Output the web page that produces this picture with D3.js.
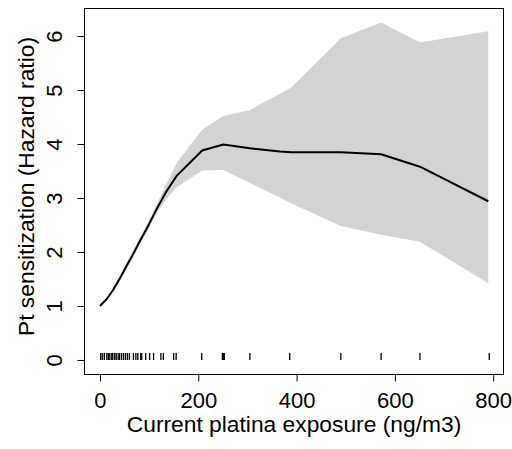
<!DOCTYPE html>
<html>
<head>
<meta charset="utf-8">
<script src="https://cdn.jsdelivr.net/npm/d3@7"></script>
<style>
body { margin: 0; background: #fff; }
text { font-family: "Liberation Sans", Arial, sans-serif; }
</style>
</head>
<body>
<div id="chart"></div>
<script>
// knots of the fitted curve (exposure, ng/m3)
var exposure = [0, 14, 27, 41, 54, 68, 81, 95, 115, 135, 156, 208, 251, 305, 366, 390, 490, 572, 651, 790];
var hazard   = [1.0, 1.13, 1.30, 1.52, 1.74, 1.97, 2.2, 2.43, 2.79, 3.12, 3.41, 3.88, 3.99, 3.92, 3.86, 3.85, 3.85, 3.81, 3.58, 2.94];
var upper    = [1.0, 1.15, 1.34, 1.57, 1.8, 2.03, 2.26, 2.5, 2.87, 3.26, 3.65, 4.27, 4.52, 4.63, 4.93, 5.05, 5.96, 6.25, 5.88, 6.09];
var lower    = [1.0, 1.11, 1.27, 1.48, 1.69, 1.91, 2.14, 2.37, 2.71, 2.98, 3.2, 3.51, 3.52, 3.28, 3.01, 2.9, 2.48, 2.32, 2.19, 1.42];

// observed exposures (rug)
var rugValues = [1.4, 4.7, 8.8, 14, 17, 20, 24, 26, 30, 33, 37, 40, 44, 48, 52, 56, 60, 68, 73, 77, 83, 85, 93, 101, 109,
  124, 129, 150, 155, 207, 249, 251, 253, 305, 386, 490, 572, 651, 792];

var xTicks = [0, 200, 400, 600, 800];
var yTicks = [0, 1, 2, 3, 4, 5, 6];

var width = 512, height = 449;
var plotLeft = 84, plotRight = 504, plotTop = 8, plotBottom = 374;
var fontSize = 22, titleSize = 22.8;

var svg = d3.select("#chart").append("svg")
    .attr("width", width)
    .attr("height", height);

var x = d3.scaleLinear().domain([-32.5, 822]).range([plotLeft, plotRight]);
var y = d3.scaleLinear().domain([-0.26, 6.52]).range([plotBottom, plotTop]);

var rows = exposure.map(function(e, i) {
  return {x: e, fit: hazard[i], lo: lower[i], hi: upper[i]};
});

// confidence band
var area = d3.area()
    .x(function(d) { return x(d.x); })
    .y0(function(d) { return y(d.lo); })
    .y1(function(d) { return y(d.hi); });

svg.append("path")
    .attr("d", area(rows))
    .attr("fill", "#d3d3d3");

// fitted line
var line = d3.line()
    .x(function(d) { return x(d.x); })
    .y(function(d) { return y(d.fit); });

svg.append("path")
    .attr("d", line(rows))
    .attr("fill", "none")
    .attr("stroke", "#000")
    .attr("stroke-width", 2);

// rug marks at zero
svg.append("g").selectAll("line")
    .data(rugValues)
    .enter().append("line")
    .attr("x1", function(d) { return x(d); })
    .attr("x2", function(d) { return x(d); })
    .attr("y1", y(0) - 7)
    .attr("y2", y(0))
    .attr("stroke", "#000")
    .attr("stroke-width", 1.3);

// box
svg.append("rect")
    .attr("x", plotLeft + 0.5)
    .attr("y", plotTop + 0.5)
    .attr("width", plotRight - plotLeft - 1)
    .attr("height", plotBottom - plotTop)
    .attr("fill", "none")
    .attr("stroke", "#000");

var xAxis = d3.axisBottom(x).tickValues(xTicks).tickSize(7).tickPadding(11)
    .tickFormat(d3.format("d"));
var yAxis = d3.axisLeft(y).tickValues(yTicks).tickSize(7)
    .tickFormat(d3.format("d"));

var gx = svg.append("g")
    .attr("transform", "translate(0," + (plotBottom + 0.5) + ")")
    .call(xAxis);
gx.select(".domain").remove();
gx.selectAll("text").attr("font-size", fontSize).attr("fill", "#000")
    .attr("font-family", "Liberation Sans, Arial, sans-serif");

var gy = svg.append("g")
    .attr("transform", "translate(" + (plotLeft + 0.5) + ",0)")
    .call(yAxis);
gy.select(".domain").remove();
gy.selectAll("text")
    .attr("font-size", fontSize)
    .attr("fill", "#000")
    .attr("font-family", "Liberation Sans, Arial, sans-serif")
    .attr("x", null).attr("dy", null)
    .attr("text-anchor", "middle")
    .attr("transform", "translate(-23,0) rotate(-90)");

svg.append("text")
    .attr("x", (plotLeft + plotRight) / 2)
    .attr("y", 432)
    .attr("text-anchor", "middle")
    .attr("font-size", titleSize)
    .text("Current platina exposure (ng/m3)");

svg.append("text")
    .attr("transform", "translate(34,186.5) rotate(-90)")
    .attr("text-anchor", "middle")
    .attr("font-size", titleSize)
    .text("Pt sensitization (Hazard ratio)");
</script>
</body>
</html>
